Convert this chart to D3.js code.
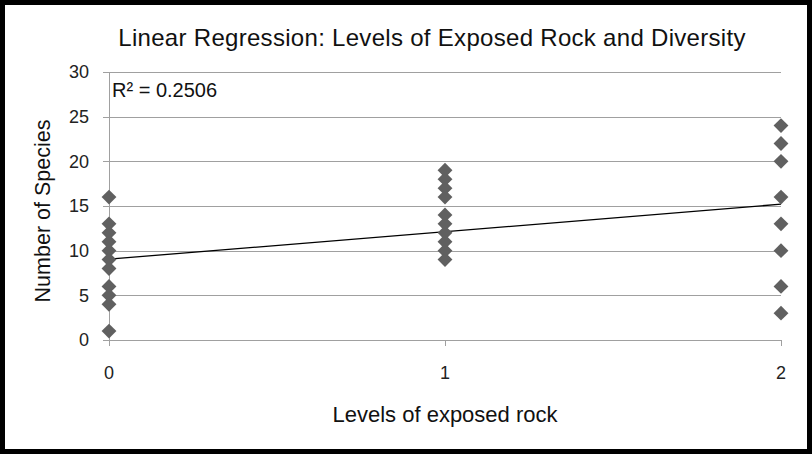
<!DOCTYPE html>
<html>
<head>
<meta charset="utf-8">
<script src="https://cdn.jsdelivr.net/npm/d3@7"></script>
<style>
  body { margin: 0; background: #fff; }
  svg { display: block; font-family: "Liberation Sans", Arial, sans-serif; }
</style>
</head>
<body>
<svg id="svg1" width="812" height="454"></svg>
<script>
var width = 812;
var height = 454;

// data
var levels = [0, 1, 2];
var species0 = [16, 13, 12, 11, 10, 9, 8, 6, 5, 4, 1];
var species1 = [19, 18, 17, 16, 14, 13, 12, 11, 10, 9];
var species2 = [24, 22, 20, 16, 13, 10, 6, 3];
var yTicks = [0, 5, 10, 15, 20, 25, 30];
var trendEnds = [9.05, 15.2];   // fitted line at level 0 and level 2
var rSquared = '0.2506';

var points = [];
[species0, species1, species2].forEach(function(arr, i){
    arr.forEach(function(v){ points.push({x: levels[i], y: v}); });
});

var svg = d3.select('#svg1');

// outer frame
svg.append('rect')
    .attr('x', 2.5).attr('y', 2.5)
    .attr('width', width - 5).attr('height', height - 5)
    .attr('fill', '#fff')
    .attr('stroke', '#000')
    .attr('stroke-width', 5);

var x = d3.scaleLinear().domain([0, 2]).range([109, 781]);
var y = d3.scaleLinear().domain([0, 30]).range([340, 72]);

// gridlines
svg.append('g')
    .selectAll('line')
    .data(yTicks)
    .enter()
    .append('line')
    .attr('x1', 103)
    .attr('x2', x(2))
    .attr('y1', function(d){ return Math.round(y(d)) + 0.5; })
    .attr('y2', function(d){ return Math.round(y(d)) + 0.5; })
    .attr('stroke', '#a0a0a0')
    .attr('stroke-width', 1);

// y axis line
svg.append('line')
    .attr('x1', x(0) + 0.5).attr('x2', x(0) + 0.5)
    .attr('y1', y(30)).attr('y2', y(0) + 6)
    .attr('stroke', '#a0a0a0');

// x ticks
svg.append('g')
    .selectAll('line')
    .data(levels)
    .enter()
    .append('line')
    .attr('x1', function(d){ return Math.round(x(d)) + 0.5; })
    .attr('x2', function(d){ return Math.round(x(d)) + 0.5; })
    .attr('y1', y(0))
    .attr('y2', y(0) + 6)
    .attr('stroke', '#a0a0a0');

// y tick labels
svg.append('g')
    .selectAll('text')
    .data(yTicks)
    .enter()
    .append('text')
    .attr('x', 89)
    .attr('y', function(d){ return y(d); })
    .attr('dy', '0.36em')
    .attr('text-anchor', 'end')
    .attr('font-size', 18)
    .attr('fill', '#222')
    .text(function(d){ return d; });

// x tick labels
svg.append('g')
    .selectAll('text')
    .data(levels)
    .enter()
    .append('text')
    .attr('x', function(d){ return x(d); })
    .attr('y', 379)
    .attr('text-anchor', 'middle')
    .attr('font-size', 18)
    .attr('fill', '#222')
    .text(function(d){ return d; });

// trend line
svg.append('line')
    .attr('x1', x(0)).attr('y1', y(trendEnds[0]))
    .attr('x2', x(2)).attr('y2', y(trendEnds[1]))
    .attr('stroke', '#000')
    .attr('stroke-width', 1.3);

// diamonds
var diamond = d3.symbol().type(d3.symbolSquare).size(110);
svg.append('g')
    .selectAll('path')
    .data(points)
    .enter()
    .append('path')
    .attr('d', diamond)
    .attr('transform', function(d){
        return 'translate(' + x(d.x) + ',' + y(d.y) + ') rotate(45)';
    })
    .attr('fill', '#606060');

// texts
svg.append('text')
    .attr('x', 432)
    .attr('y', 46)
    .attr('text-anchor', 'middle')
    .attr('font-size', 24)
    .attr('letter-spacing', 0.3)
    .attr('fill', '#111')
    .text('Linear Regression: Levels of Exposed Rock and Diversity');

svg.append('text')
    .attr('x', 112)
    .attr('y', 97)
    .attr('font-size', 20)
    .attr('fill', '#111')
    .text('R\u00b2 = ' + rSquared);

svg.append('text')
    .attr('x', 445)
    .attr('y', 422)
    .attr('text-anchor', 'middle')
    .attr('font-size', 22)
    .attr('fill', '#111')
    .text('Levels of exposed rock');

svg.append('text')
    .attr('transform', 'translate(50,211) rotate(-90)')
    .attr('text-anchor', 'middle')
    .attr('font-size', 21.5)
    .attr('fill', '#111')
    .text('Number of Species');
</script>
</body>
</html>
